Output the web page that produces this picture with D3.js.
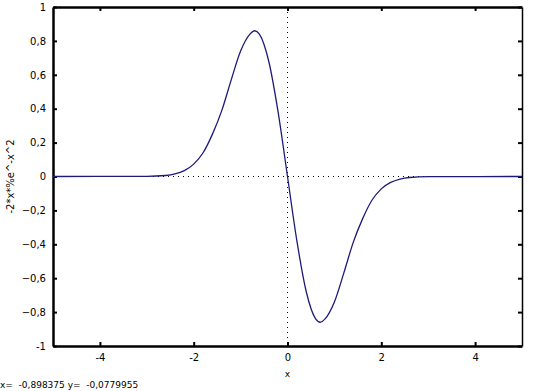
<!DOCTYPE html>
<html><head><meta charset="utf-8">
<script src="https://cdn.jsdelivr.net/npm/d3@7"></script>
<style>body{margin:0;background:#fff}svg{display:block}text{font-family:"DejaVu Sans",sans-serif;white-space:pre}</style>
</head><body><svg id="c" width="540" height="391"></svg>
<script>
const xs = [-5, -3, -2.6, -2.4, -2.2, -2, -1.8, -1.6, -1.4, -1.2, -1.0, -0.8, -0.7, -0.6, -0.4, -0.2, 0, 0.2, 0.4, 0.6, 0.7, 0.8, 1.0, 1.2, 1.4, 1.6, 1.8, 2.0, 2.2, 2.4, 2.6, 3, 5];
const ys = [0, 0.001, 0.006, 0.015, 0.035, 0.073, 0.14, 0.25, 0.39, 0.57, 0.74, 0.84, 0.86, 0.84, 0.68, 0.38, 0, -0.38, -0.68, -0.84, -0.86, -0.84, -0.74, -0.57, -0.39, -0.25, -0.14, -0.073, -0.035, -0.015, -0.006, -0.001, 0];
const xTicks = [-4, -2, 0, 2, 4];
const yTicks = [-1, -0.8, -0.6, -0.4, -0.2, 0, 0.2, 0.4, 0.6, 0.8, 1];
const yLabel = "-2*x*%e^-x^2";
const xLabel = "x";
const status = "x=  -0,898375 y=  -0,0779955";

const svg = d3.select("#c");
const L = 53, R = 522, T = 7, B = 346;
const x = d3.scaleLinear().domain([-5, 5]).range([L, R]);
const y = d3.scaleLinear().domain([-1, 1]).range([B, T]);
const fmt = v => v === 0 ? "0" : (Number.isInteger(v) ? String(v) : d3.format(".1f")(v).replace(".", ","));

// zero lines
svg.append("line").attr("x1", L).attr("x2", R).attr("y1", y(0)).attr("y2", y(0))
  .attr("stroke", "#000").attr("stroke-width", 1).attr("stroke-dasharray", "1,4");
svg.append("line").attr("x1", x(0)).attr("x2", x(0)).attr("y1", T).attr("y2", B)
  .attr("stroke", "#000").attr("stroke-width", 1).attr("stroke-dasharray", "1,4");

// axes
const gB = svg.append("g").attr("transform", `translate(0,${B})`)
  .call(d3.axisBottom(x).tickValues(xTicks).tickSizeInner(-4).tickSizeOuter(0).tickPadding(8).tickFormat(fmt));
const gT = svg.append("g").attr("transform", `translate(0,${T})`)
  .call(d3.axisTop(x).tickValues(xTicks).tickSizeInner(-4).tickSizeOuter(0).tickFormat(""));
const gL = svg.append("g").attr("transform", `translate(${L},0)`)
  .call(d3.axisLeft(y).tickValues(yTicks).tickSizeInner(-4).tickSizeOuter(0).tickPadding(7).tickFormat(fmt));
const gR = svg.append("g").attr("transform", `translate(${R},0)`)
  .call(d3.axisRight(y).tickValues(yTicks).tickSizeInner(-4).tickSizeOuter(0).tickFormat(""));
[gB, gT, gL].forEach(g => g.select(".domain").attr("stroke-width", 2.5));
gR.select(".domain").attr("stroke-width", 1.5);
svg.selectAll(".tick line").attr("stroke-width", 2);
svg.selectAll(".tick text").attr("font-size", 10).attr("fill", "#000");

// curve
const line = d3.line().x((d, i) => x(xs[i])).y(d => y(d)).curve(d3.curveMonotoneX);
svg.append("path").datum(ys).attr("d", line).attr("fill", "none")
  .attr("stroke", "#1e1a7a").attr("stroke-width", 1.3);

// labels
svg.append("text").attr("transform", `translate(14,${y(0)}) rotate(-90)`)
  .attr("text-anchor", "middle").attr("font-size", 10).text(yLabel);
svg.append("text").attr("x", x(0)).attr("y", 377).attr("text-anchor", "middle")
  .attr("font-size", 9).text(xLabel);
svg.append("text").attr("x", 0).attr("y", 388).attr("font-size", 9).text(status);
</script></body></html>
